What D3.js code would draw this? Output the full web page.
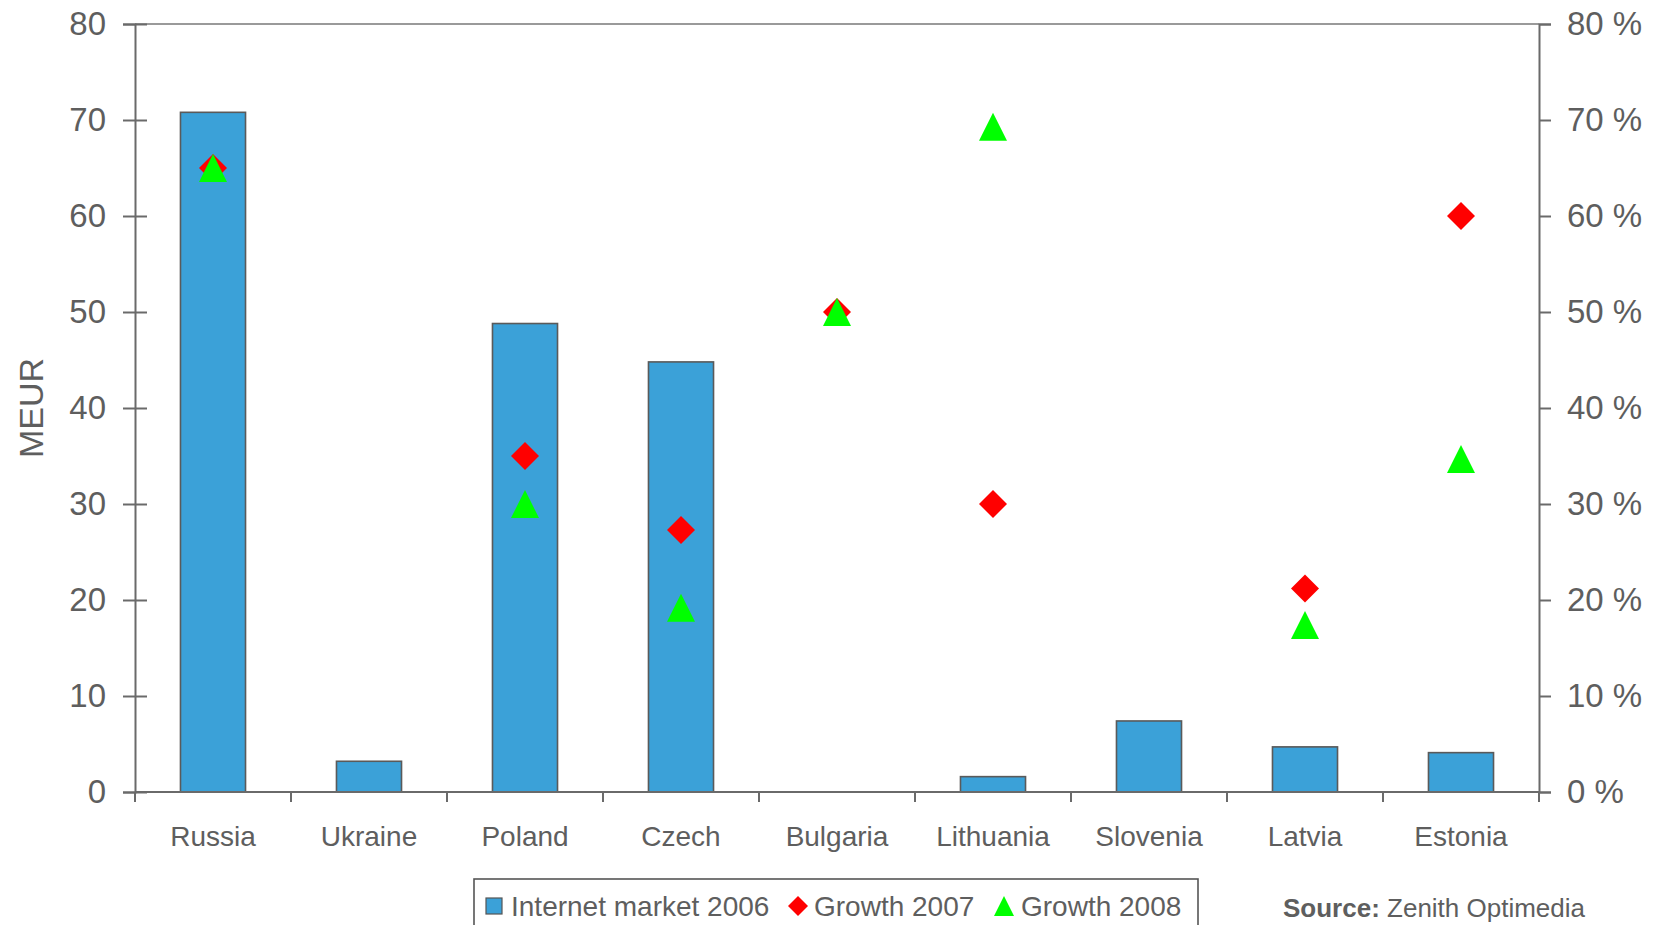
<!DOCTYPE html>
<html>
<head>
<meta charset="utf-8">
<script src="https://cdn.jsdelivr.net/npm/d3@7"></script>
<style>
  html, body { margin: 0; padding: 0; background: #fff; }
  svg { display: block; font-family: "Liberation Sans", Arial, sans-serif; }
</style>
</head>
<body>
<svg id="chart" width="1662" height="925"></svg>
<script>
// Internet advertising market 2006 (MEUR) and growth rates 2007 / 2008 (%)
const countries = ["Russia", "Ukraine", "Poland", "Czech", "Bulgaria", "Lithuania", "Slovenia", "Latvia", "Estonia"];
const market2006 = [70.8, 3.2, 48.8, 44.8, null, 1.6, 7.4, 4.7, 4.1];
const growth2007 = [65, null, 35, 27.3, 50, 30, null, 21.2, 60];
const growth2008 = [65, null, 30, 19.2, 50, 69.3, null, 17.4, 34.7];
const leftTicks = [0, 10, 20, 30, 40, 50, 60, 70, 80];
const rightTicks = [0, 10, 20, 30, 40, 50, 60, 70, 80];
const legendLabels = ["Internet market 2006", "Growth 2007", "Growth 2008"];

(function () {
  const textColor = "#5e5e5e";
  const axisColor = "#6a6a6a";
  const barFill = "#3ba1d8";
  const red = "#ff0000";
  const green = "#00ff00";

  const svg = d3.select("#chart");
  const plotLeft = 135, plotRight = 1539, plotTop = 24, plotBottom = 792;

  const x = d3.scaleBand().domain(countries).range([plotLeft, plotRight])
    .paddingInner(0.583).paddingOuter(0.2915);
  const yL = d3.scaleLinear().domain([0, 80]).range([plotBottom, plotTop]);
  const yR = d3.scaleLinear().domain([0, 80]).range([plotBottom, plotTop]);

  // top frame line
  svg.append("line").attr("x1", plotLeft).attr("x2", plotRight).attr("y1", plotTop).attr("y2", plotTop)
    .attr("stroke", "#9a9a9a").attr("stroke-width", 2);

  // bars
  svg.append("g").selectAll("rect")
    .data(countries.map((c, i) => ({ c, v: market2006[i] })).filter(d => d.v != null))
    .join("rect")
    .attr("x", d => x(d.c))
    .attr("width", x.bandwidth())
    .attr("y", d => yL(d.v))
    .attr("height", d => yL(0) - yL(d.v))
    .attr("fill", barFill)
    .attr("stroke", "#5a5a5a")
    .attr("stroke-width", 1.6);

  // left axis
  const gL = svg.append("g").attr("transform", `translate(${plotLeft},0)`)
    .call(d3.axisLeft(yL).tickValues(leftTicks).tickSize(12).tickPadding(17));
  gL.select(".domain").attr("stroke", axisColor).attr("stroke-width", 2);
  gL.selectAll(".tick line").attr("x1", 12).attr("stroke", axisColor).attr("stroke-width", 2);
  gL.selectAll(".tick text").attr("fill", textColor).style("font-size", "33px")
    .style("font-family", "'Liberation Sans', Arial, sans-serif");

  // right axis
  const gR = svg.append("g").attr("transform", `translate(${plotRight},0)`)
    .call(d3.axisRight(yR).tickValues(rightTicks).tickSize(12).tickPadding(16).tickFormat(d => d + " %"));
  gR.select(".domain").attr("stroke", axisColor).attr("stroke-width", 2);
  gR.selectAll(".tick line").attr("stroke", axisColor).attr("stroke-width", 2);
  gR.selectAll(".tick text").attr("fill", textColor).style("font-size", "33px")
    .style("font-family", "'Liberation Sans', Arial, sans-serif");

  // bottom axis: line, boundary ticks, category labels
  svg.append("line").attr("x1", plotLeft).attr("x2", plotRight).attr("y1", plotBottom).attr("y2", plotBottom)
    .attr("stroke", axisColor).attr("stroke-width", 2);
  const step = x.step();
  svg.append("g").selectAll("line")
    .data(d3.range(countries.length + 1))
    .join("line")
    .attr("x1", i => plotLeft + i * step).attr("x2", i => plotLeft + i * step)
    .attr("y1", plotBottom).attr("y2", plotBottom + 10)
    .attr("stroke", axisColor).attr("stroke-width", 2);
  svg.append("g").selectAll("text")
    .data(countries)
    .join("text")
    .attr("x", d => x(d) + x.bandwidth() / 2)
    .attr("y", 846)
    .attr("text-anchor", "middle")
    .attr("fill", textColor)
    .style("font-size", "28px")
    .text(d => d);

  // y title
  svg.append("text")
    .attr("transform", "translate(43,408) rotate(-90)")
    .attr("text-anchor", "middle")
    .attr("fill", textColor)
    .style("font-size", "34px")
    .text("MEUR");

  // marker shapes
  function diamondPath(cx, cy, r) {
    const p = d3.path();
    p.moveTo(cx, cy - r); p.lineTo(cx + r, cy); p.lineTo(cx, cy + r); p.lineTo(cx - r, cy); p.closePath();
    return p.toString();
  }
  function trianglePath(cx, cy, r) {
    const p = d3.path();
    p.moveTo(cx, cy - r); p.lineTo(cx + r, cy + r); p.lineTo(cx - r, cy + r); p.closePath();
    return p.toString();
  }

  const cx = c => x(c) + x.bandwidth() / 2;

  svg.append("g").selectAll("path")
    .data(countries.map((c, i) => ({ c, v: growth2007[i] })).filter(d => d.v != null))
    .join("path")
    .attr("d", d => diamondPath(cx(d.c), yR(d.v), 14))
    .attr("fill", red);

  svg.append("g").selectAll("path")
    .data(countries.map((c, i) => ({ c, v: growth2008[i] })).filter(d => d.v != null))
    .join("path")
    .attr("d", d => trianglePath(cx(d.c), yR(d.v), 14))
    .attr("fill", green);

  // legend
  const lg = svg.append("g");
  lg.append("rect").attr("x", 474).attr("y", 879).attr("width", 724).attr("height", 60)
    .attr("fill", "#fff").attr("stroke", "#555").attr("stroke-width", 1.6);
  const ly = 906;
  lg.append("rect").attr("x", 486).attr("y", ly - 8).attr("width", 16).attr("height", 16)
    .attr("fill", barFill).attr("stroke", "#555").attr("stroke-width", 1.2);
  lg.append("path").attr("d", diamondPath(798, ly, 10)).attr("fill", red);
  lg.append("path").attr("d", trianglePath(1004, ly, 10)).attr("fill", green);
  const lx = [511, 814, 1021];
  lg.selectAll("text").data(legendLabels).join("text")
    .attr("x", (d, i) => lx[i]).attr("y", ly + 10)
    .attr("fill", textColor).style("font-size", "28px")
    .text(d => d);

  // source note
  const src = svg.append("text").attr("x", 1283).attr("y", 917).attr("fill", textColor).style("font-size", "26px");
  src.append("tspan").attr("font-weight", "bold").text("Source:");
  src.append("tspan").text(" Zenith Optimedia");
})();
</script>
</body>
</html>
